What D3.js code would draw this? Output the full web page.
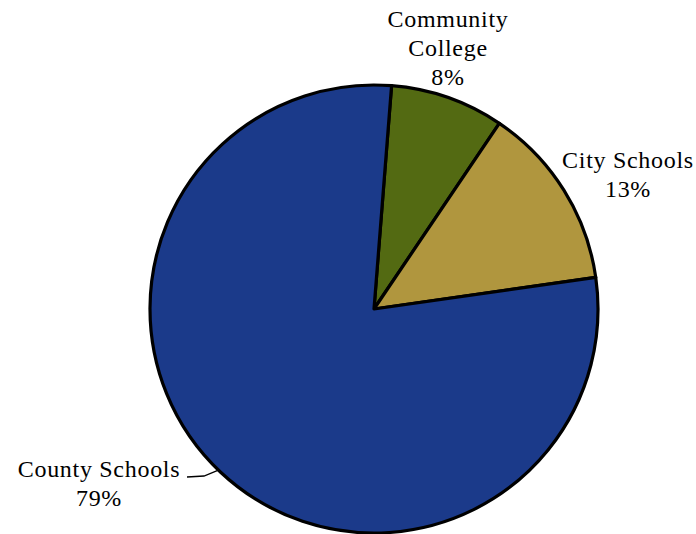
<!DOCTYPE html>
<html>
<head>
<meta charset="utf-8">
<script src="https://cdn.jsdelivr.net/npm/d3@7"></script>
<style>
  body { margin: 0; background: #fff; }
  svg text { font-family: "Palatino Linotype", "Book Antiqua", Palatino, "Liberation Serif", serif; font-size: 24px; letter-spacing: 0.7px; fill: #000; }
</style>
</head>
<body>
<div id="chart"></div>
<script>
// Slices (clockwise from the top)
const categories = ['Community College', 'City Schools', 'County Schools'];
const values = [8.2, 13.3, 78.5];
const percentLabels = ['8%', '13%', '79%'];
const colors = ['#536a12', '#b0963e', '#1b3a8a'];

const width = 696, height = 534;
const cx = 374, cy = 309, radius = 224;
const startAngle = 4.5 * Math.PI / 180;

const svg = d3.select('#chart')
    .append('svg')
    .attr('width', width)
    .attr('height', height);

const pie = d3.pie()
    .sort(null)
    .value(d => d)
    .startAngle(startAngle)
    .endAngle(startAngle + 2 * Math.PI);

const arc = d3.arc()
    .innerRadius(0)
    .outerRadius(radius);

const g = svg.append('g')
    .attr('transform', `translate(${cx},${cy})`);

const slices = pie(values);

g.selectAll('path')
    .data(slices)
    .join('path')
    .attr('d', arc)
    .attr('fill', (d, i) => colors[i])
    .attr('stroke', '#000')
    .attr('stroke-width', 3.2)
    .attr('stroke-linejoin', 'round');

// Label placement (line lists of each label) and where they sit
const labelLines = [
    ['Community', 'College', percentLabels[0]],
    ['City Schools', percentLabels[1]],
    ['County Schools', percentLabels[2]]
];
const labelPos = [[448, 27], [628, 168], [99, 477]];
const lineGap = 29;

labelLines.forEach((lines, i) => {
    const t = svg.append('text')
        .attr('text-anchor', 'middle');
    lines.forEach((l, j) => {
        t.append('tspan')
            .attr('x', labelPos[i][0])
            .attr('y', labelPos[i][1] + j * lineGap)
            .text(l);
    });
});

// Leader line for County Schools
const a = 224 * Math.PI / 180;
const edge = [cx + radius * Math.sin(a), cy - radius * Math.cos(a)];
svg.append('polyline')
    .attr('points', [[187, 477], [204, 476], edge].map(p => p.join(',')).join(' '))
    .attr('fill', 'none')
    .attr('stroke', '#000')
    .attr('stroke-width', 1.3);
</script>
</body>
</html>
